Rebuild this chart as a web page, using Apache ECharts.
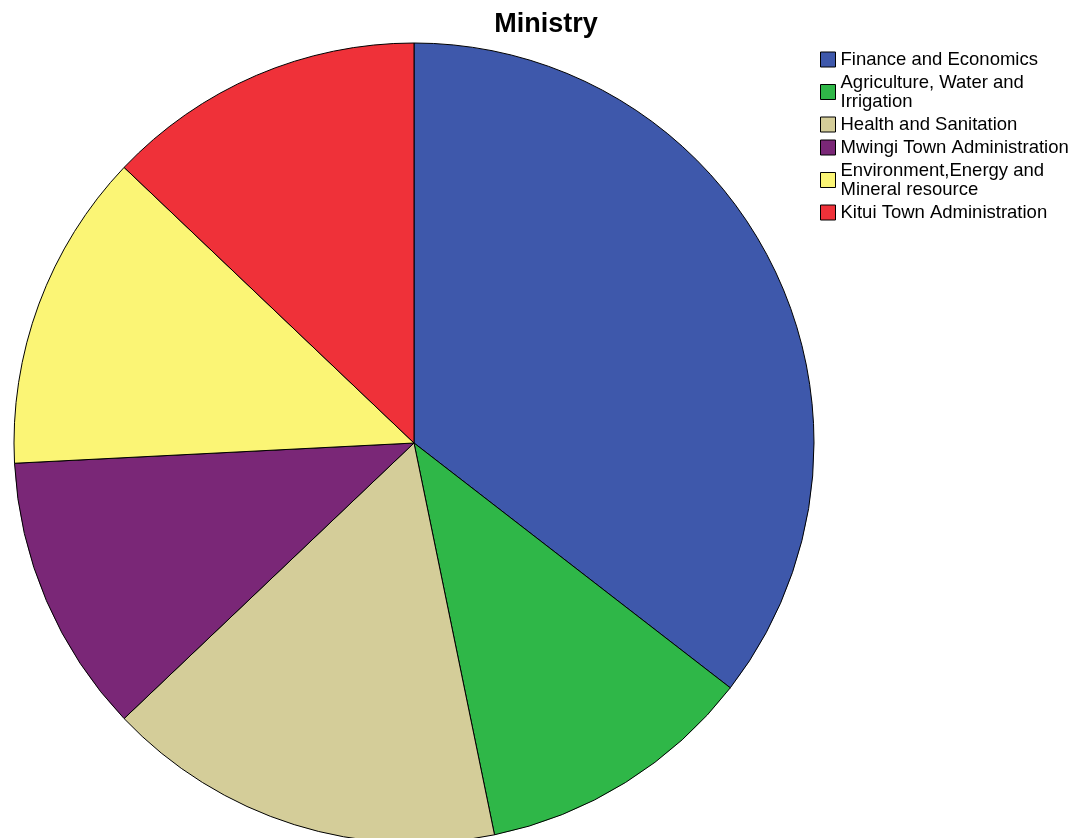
<!DOCTYPE html>
<html>
<head>
<meta charset="utf-8">
<script src="https://cdn.jsdelivr.net/npm/echarts@6/dist/echarts.min.js"></script>
<style>html,body{margin:0;padding:0;background:#fff;}#c{width:1084px;height:838px;}</style>
</head>
<body>
<div id="c"></div>
<script>
const categories = ["Finance and Economics", "Agriculture, Water and\nIrrigation", "Health and Sanitation", "Mwingi Town Administration", "Environment,Energy and\nMineral resource", "Kitui Town Administration"];
const values = [22, 7, 10, 7, 8, 8];
const colors = ["#3e58ab", "#2fb748", "#d4cd99", "#7a2777", "#fbf575", "#ef3139"];

const chart = echarts.init(document.getElementById('c'));
chart.setOption({
  animation: false,
  color: colors,
  title: {
    text: 'Ministry', left: 546, top: 11, textAlign: 'center', padding: 0,
    textStyle: { fontFamily: 'Liberation Sans, Arial, sans-serif', fontSize: 27, fontWeight: 'bold', color: '#000' }
  },
  legend: {
    orient: 'vertical', left: 820, top: 50, padding: 0, itemWidth: 15, itemHeight: 15, itemGap: 4,
    icon: 'rect',
    itemStyle: { borderColor: '#000', borderWidth: 1 },
    textStyle: { fontFamily: 'Liberation Sans, Arial, sans-serif', fontSize: 18.5, lineHeight: 19, color: '#000' },
    data: categories
  },
  series: [{
    type: 'pie', center: [414, 443], radius: 400, startAngle: 90, clockwise: true,
    label: { show: false }, labelLine: { show: false },
    itemStyle: { borderColor: '#000', borderWidth: 1 },
    emphasis: { disabled: true },
    data: categories.map((n, i) => ({ name: n, value: values[i] }))
  }]
});
</script>
</body>
</html>
